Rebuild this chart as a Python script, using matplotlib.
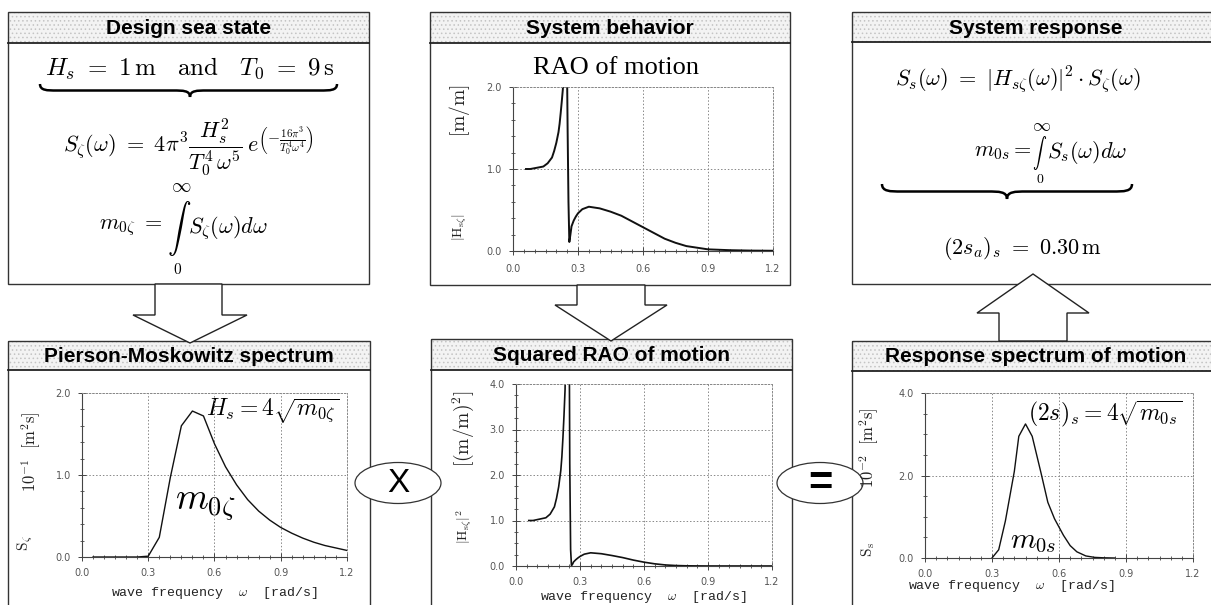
import numpy as np
import matplotlib
matplotlib.use("Agg")
import matplotlib.pyplot as plt
from matplotlib.patches import Rectangle, Polygon, Ellipse, PathPatch
from matplotlib.path import Path
from matplotlib.ticker import MultipleLocator, FormatStrFormatter

plt.rcParams['mathtext.fontset'] = 'cm'
plt.rcParams['hatch.linewidth'] = 0.6

# ---- data ----
# Pierson-Moskowitz spectrum, S_zeta in 10^-1 m^2 s
w_pm = [0.05, 0.10, 0.15, 0.20, 0.25, 0.30, 0.35, 0.40, 0.45, 0.50, 0.55, 0.60,
        0.65, 0.70, 0.75, 0.80, 0.85, 0.90, 0.95, 1.00, 1.05, 1.10, 1.15, 1.20]
s_pm = [0.0, 0.0, 0.0, 0.0, 0.0, 0.01, 0.24, 0.97, 1.60, 1.78, 1.72, 1.38,
        1.10, 0.88, 0.70, 0.56, 0.45, 0.36, 0.29, 0.23, 0.18, 0.14, 0.11, 0.08]

# RAO of motion |H_s zeta| [m/m]
w_rao = [0.06, 0.08, 0.10, 0.12, 0.14, 0.16, 0.18, 0.19, 0.20, 0.21, 0.215, 0.22,
         0.225, 0.23, 0.235, 0.24, 0.245, 0.248, 0.252, 0.256, 0.26, 0.265, 0.27,
         0.28, 0.29, 0.30, 0.32, 0.35, 0.40, 0.45, 0.50, 0.55, 0.60, 0.65, 0.70,
         0.75, 0.80, 0.85, 0.90, 1.00, 1.10, 1.20]
rao = [1.00, 1.00, 1.01, 1.02, 1.03, 1.07, 1.14, 1.22, 1.32, 1.45, 1.55, 1.68,
       1.82, 1.97, 2.30, 2.80, 3.00, 2.60, 1.50, 0.60, 0.11, 0.20, 0.30,
       0.37, 0.42, 0.46, 0.51, 0.54, 0.52, 0.48, 0.43, 0.36, 0.29, 0.22, 0.15,
       0.10, 0.06, 0.04, 0.02, 0.01, 0.005, 0.003]
# squared RAO [(m/m)^2]
rao2 = [1.00, 1.00, 1.02, 1.04, 1.06, 1.14, 1.30, 1.49, 1.74, 2.10, 2.40, 2.82,
        3.31, 3.88, 5.29, 7.84, 9.00, 6.76, 2.25, 0.36, 0.012, 0.04, 0.09,
        0.137, 0.176, 0.21, 0.26, 0.29, 0.27, 0.23, 0.185, 0.13, 0.084, 0.048, 0.023,
        0.01, 0.004, 0.002, 0.0004, 0.0001, 0.0, 0.0]

# response spectrum S_s in 10^-2 m^2 s
w_rs = [0.30, 0.33, 0.36, 0.40, 0.42, 0.45, 0.48, 0.50, 0.52, 0.55, 0.58, 0.62,
        0.65, 0.68, 0.72, 0.76, 0.80, 0.85]
s_rs = [0.0, 0.2, 0.9, 2.1, 2.95, 3.25, 2.95, 2.5, 2.05, 1.35, 0.95, 0.55,
        0.3, 0.15, 0.05, 0.015, 0.005, 0.0]

W, H = 1211, 605
fig = plt.figure(figsize=(W / 100, H / 100), dpi=100)
bg = fig.add_axes([0, 0, 1, 1])
bg.set_xlim(0, W)
bg.set_ylim(H, 0)
bg.axis('off')


def box(x0, y0, x1, y1, yb, title):
    bg.add_patch(Rectangle((x0, y0), x1 - x0, yb - y0, facecolor='#f3f3f3', edgecolor='none'))
    bg.add_patch(Rectangle((x0, y0), x1 - x0, yb - y0, fill=False, hatch='....',
                           edgecolor='#c4c4c4', linewidth=0))
    bg.add_patch(Rectangle((x0, y0), x1 - x0, y1 - y0, fill=False, edgecolor='#333333', linewidth=1.0))
    bg.plot([x0, x1], [yb, yb], color='#222222', lw=1.3)
    bg.text((x0 + x1) / 2, (y0 + yb) / 2 + 1, title, ha='center', va='center',
            fontsize=15, fontweight='bold', family='Liberation Sans')


def brace(xl, xr, y, h, xm):
    r = h * 1.3
    ym = y + h * 0.5
    verts = [(xl, y), (xl, ym), (xl + r * 0.4, ym), (xl + r, ym),
             (xm - r, ym),
             (xm - r * 0.4, ym), (xm, ym), (xm, y + h),
             (xm, ym), (xm + r * 0.4, ym), (xm + r, ym),
             (xr - r, ym),
             (xr - r * 0.4, ym), (xr, ym), (xr, y)]
    codes = [Path.MOVETO] + [Path.CURVE4] * 3 + [Path.LINETO] + [Path.CURVE4] * 6 + \
            [Path.LINETO] + [Path.CURVE4] * 3
    bg.add_patch(PathPatch(Path(verts, codes), fill=False, lw=1.8, color='black'))


box(8, 12, 369, 284, 43, 'Design sea state')
box(430, 12, 790, 285, 43, 'System behavior')
box(852, 12, 1220, 284, 42, 'System response')
box(8, 341, 370, 620, 370, 'Pierson-Moskowitz spectrum')
box(431, 339, 792, 620, 370, 'Squared RAO of motion')
box(852, 341, 1220, 620, 371, 'Response spectrum of motion')

# block arrows
arrows = [
    [(155, 284), (222, 284), (222, 315), (247, 315), (190, 343), (133, 315), (155, 315)],
    [(577, 285), (645, 285), (645, 305), (667, 305), (611, 341), (555, 305), (577, 305)],
    [(999, 341), (1067, 341), (1067, 313), (1089, 313), (1033, 274), (977, 313), (999, 313)],
]
for pts in arrows:
    bg.add_patch(Polygon(pts, closed=True, facecolor='white', edgecolor='#222222', lw=1.0, zorder=4))

# operators
for cx, sym, fs, fw in [(398, 'X', 24, 'normal'), (820, '=', 30, 'bold')]:
    bg.add_patch(Ellipse((cx, 483), 86, 41, facecolor='white', edgecolor='#333333', lw=0.9, zorder=5))
    bg.text(cx, 484, sym, ha='center', va='center', fontsize=fs, fontweight=fw,
            family='Liberation Sans', zorder=6)

# top-left equations
bg.text(190, 68, r'$H_s\ =\ 1\,\mathrm{m}\quad\mathrm{and}\quad T_0\ =\ 9\,\mathrm{s}$',
        ha='center', va='center', fontsize=18)
brace(40, 337, 84, 13, 190)
bg.text(188, 147, r'$S_\zeta(\omega)\ =\ 4\pi^3\dfrac{H_s^2}{T_0^4\,\omega^5}\,e^{\left(-\frac{16\pi^3}{T_0^4\omega^4}\right)}$',
        ha='center', va='center', fontsize=16)
bg.text(163, 228, r'$m_{0\zeta}\ =$', ha='right', va='center', fontsize=16)
bg.text(179, 229, r'$\int$', ha='center', va='center', fontsize=17)
bg.text(181, 187, r'$\infty$', ha='center', va='center', fontsize=14)
bg.text(188, 228, r'$S_\zeta(\omega)d\omega$', ha='left', va='center', fontsize=16)
bg.text(178, 270, r'$0$', ha='center', va='center', fontsize=11)

# top-middle title
bg.text(616, 68, 'RAO of motion', ha='center', va='center', fontsize=19, family='Liberation Serif')

# top-right equations
bg.text(1018, 80, r'$S_s(\omega)\ =\ |H_{s\zeta}(\omega)|^2\cdot S_\zeta(\omega)$',
        ha='center', va='center', fontsize=16)
bg.text(1032, 152, r'$m_{0s} =$', ha='right', va='center', fontsize=16)
bg.text(1040, 153, r'$\int$', ha='center', va='center', fontsize=10)
bg.text(1047, 152, r'$S_s(\omega)d\omega$', ha='left', va='center', fontsize=16)
bg.text(1041, 126, r'$\infty$', ha='center', va='center', fontsize=13)
bg.text(1040, 179, r'$0$', ha='center', va='center', fontsize=10)
brace(882, 1132, 184, 15, 1007)
bg.text(1022, 248, r'$(2s_a)_s\ =\ 0.30\,\mathrm{m}$', ha='center', va='center', fontsize=16)

# axis labels (drawn on the background layer)
xlab = r'wave frequency  $\omega$  [rad/s]'
for x, y in [(214, 593), (643, 597), (1011, 586)]:
    bg.text(x, y, xlab, ha='center', va='center', fontsize=9.5, family='Liberation Mono', color='#222222')

ylabs = [
    (25, 543, r'$\mathrm{S}_\zeta$', 11),
    (31, 452, r'$10^{-1}\ \ [\mathrm{m}^2\mathrm{s}]$', 12),
    (460, 111, r'$[\mathrm{m}/\mathrm{m}]$', 14),
    (460, 227, r'$|\mathrm{H}_{\mathrm{s}\zeta}|$', 10),
    (463, 429, r'$[(\mathrm{m}/\mathrm{m})^2]$', 14),
    (464, 527, r'$|\mathrm{H}_{\mathrm{s}\zeta}|^2$', 10),
    (869, 448, r'$10^{-2}\ \ [\mathrm{m}^2\mathrm{s}]$', 12),
    (868, 549, r'$\mathrm{S}_\mathrm{s}$', 11),
]
for x, y, s, fs in ylabs:
    bg.text(x, y, s, ha='center', va='center', rotation=90, fontsize=fs, color='#222222', zorder=7)

# in-plot annotations
bg.text(273, 411, r'$H_s = 4\sqrt{m_{0\zeta}}$', ha='center', va='center', fontsize=17)
bg.text(205, 504, r'$m_{0\zeta}$', ha='center', va='center', fontsize=27)
bg.text(1105, 414, r'$(2s)_s = 4\sqrt{m_{0s}}$', ha='center', va='center', fontsize=17)
bg.text(1033, 541, r'$m_{0s}$', ha='center', va='center', fontsize=21)


def pax(x0, y0, x1, y1, ymax, ymaj, ymin):
    a = fig.add_axes([x0 / W, 1 - y1 / H, (x1 - x0) / W, (y1 - y0) / H])
    a.set_facecolor('none')
    a.set_xlim(0, 1.2)
    a.set_ylim(0, ymax)
    a.xaxis.set_major_locator(MultipleLocator(0.3))
    a.xaxis.set_minor_locator(MultipleLocator(0.05))
    a.yaxis.set_major_locator(MultipleLocator(ymaj))
    a.yaxis.set_minor_locator(MultipleLocator(ymin))
    a.xaxis.set_major_formatter(FormatStrFormatter('%.1f'))
    a.yaxis.set_major_formatter(FormatStrFormatter('%.1f'))
    a.grid(True, which='major', linestyle=(0, (1.5, 2)), color='#888888', lw=0.7)
    for s in ['top', 'right']:
        a.spines[s].set_linestyle((0, (1.5, 2)))
        a.spines[s].set_color('#888888')
        a.spines[s].set_linewidth(0.7)
    for s in ['left', 'bottom']:
        a.spines[s].set_color('#444444')
        a.spines[s].set_linewidth(0.8)
    a.tick_params(which='both', direction='inout', top=False, right=False,
                  labelsize=7, labelcolor='#555555', color='#444444', pad=5)
    a.tick_params(which='major', length=6, width=0.7)
    a.tick_params(which='minor', length=3.5, width=0.6)
    return a


ax1 = pax(82, 393, 347, 557, 2.0, 1.0, 0.2)
ax1.plot(w_pm, s_pm, color='#111111', lw=1.0)

ax2 = pax(513, 87, 773, 251, 2.0, 1.0, 0.2)
ax2.plot(w_rao, rao, color='#111111', lw=1.4)
ax2.tick_params(axis='x', pad=6)

ax3 = pax(516, 384, 772, 566, 4.0, 1.0, 0.25)
ax3.plot(w_rao, rao2, color='#111111', lw=1.2)

ax4 = pax(925, 393, 1193, 558, 4.0, 2.0, 0.5)
ax4.plot(w_rs, s_rs, color='#111111', lw=1.0)

fig.savefig('out.png', dpi=100)
